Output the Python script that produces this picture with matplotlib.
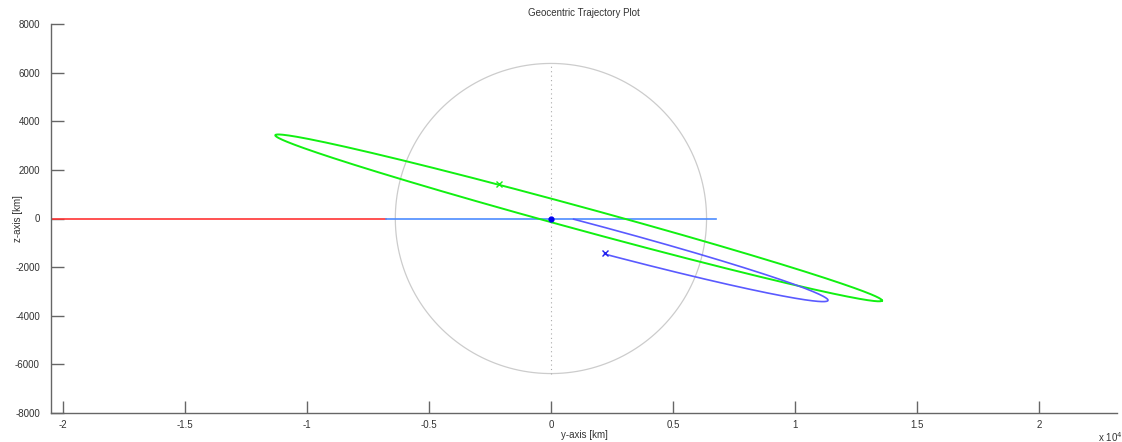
import numpy as np
import matplotlib
matplotlib.use("Agg")
import matplotlib.pyplot as plt

plt.rcParams['font.family'] = ['Liberation Sans', 'DejaVu Sans']

# Earth
earth_radius = 6378.0  # km

# incoming hyperbolic leg (red) and parking line (light blue), z = 0
red_y = [-21000.0, -6760.0]
red_z = [0.0, 0.0]
line_y = [-6760.0, 6760.0]
line_z = [0.0, 0.0]

# transfer orbit (green) ellipse: centre, semi axes [km], tilt [deg]
green_center = (1135.0, 25.0)
green_a, green_b = 12890.0, 470.0
green_tilt = -15.3
green_mark = (-2130.0, 1400.0)

# final orbit (blue) partial ellipse
blue_center_uv = (1700.0, -315.0)
blue_a, blue_b = 10140.0, 530.0
blue_tilt = -15.0
blue_arc_deg = (94.5, -85.5)
blue_mark = (2200.0, -1430.0)

# satellite at origin
origin = (0.0, 0.0)

x_ticks = np.arange(-20000, 20001, 5000)
y_ticks = np.arange(-8000, 8001, 2000)


def ellipse_pts(cu, cv, a, b, tilt, t0, t1, n=400):
    t = np.radians(np.linspace(t0, t1, n))
    u = cu + a * np.cos(t)
    v = cv + b * np.sin(t)
    th = np.radians(tilt)
    y = u * np.cos(th) - v * np.sin(th)
    z = u * np.sin(th) + v * np.cos(th)
    return y, z


fig = plt.figure(figsize=(11.22, 4.42), dpi=100)
ax = fig.add_axes([51 / 1122, 29 / 442, 1066 / 1122, 389 / 442])

# earth outline and polar axis
phi = np.linspace(0, 2 * np.pi, 400)
ax.plot(earth_radius * np.cos(phi), earth_radius * np.sin(phi),
        color='#cccccc', lw=0.9)
ax.plot([0, 0], [-earth_radius, earth_radius], color='#aaaaaa', lw=0.8,
        ls=(0, (1, 3)))

ax.plot(red_y, red_z, color='#ff3333', lw=1.2)
ax.plot(line_y, line_z, color='#4d8cff', lw=1.2)

# green ellipse in its own frame: convert centre to u/v
th = np.radians(green_tilt)
gu = green_center[0] * np.cos(th) + green_center[1] * np.sin(th)
gv = -green_center[0] * np.sin(th) + green_center[1] * np.cos(th)
gy, gz = ellipse_pts(gu, gv, green_a, green_b, green_tilt, 0, 360)
ax.plot(gy, gz, color='#11f011', lw=1.4)
ax.plot(*green_mark, marker='x', color='#11f011', ms=4, mew=1)

by, bz = ellipse_pts(blue_center_uv[0], blue_center_uv[1], blue_a, blue_b,
                     blue_tilt, blue_arc_deg[0], blue_arc_deg[1])
ax.plot(by, bz, color='#5a5aff', lw=1.2)
ax.plot(*blue_mark, marker='x', color='#2222ee', ms=4, mew=1)
ax.plot(*origin, marker='o', color='#0000ee', ms=3.5)

ax.set_xlim(-20490, 23200)
ax.set_ylim(-8000, 8000)

ax.set_xticks(x_ticks)
ax.set_xticklabels(['%g' % (v / 1e4) for v in x_ticks])
ax.set_yticks(y_ticks)
ax.set_yticklabels(['%d' % v for v in y_ticks])

for s in ['top', 'right']:
    ax.spines[s].set_visible(False)
for s in ['left', 'bottom']:
    ax.spines[s].set_color('#666666')
    ax.spines[s].set_linewidth(1.0)
ax.tick_params(direction='in', length=9, width=1, color='#666666',
               labelsize=7, labelcolor='#333333')
ax.tick_params(axis='y', pad=8)
ax.tick_params(axis='x', pad=5)

ax.set_title('Geocentric Trajectory Plot', fontsize=7, color='#333333', pad=6)
ax.set_xlabel('y-axis [km]', fontsize=7, color='#333333', labelpad=0)
ax.set_ylabel('z-axis [km]', fontsize=7, color='#333333', va='center')
ax.yaxis.set_label_coords(-33 / 1066, 0.5)
fig.text(1098 / 1122, 1 - 437 / 442, r'x 10$^4$', fontsize=7, color='#333333',
         ha='left', va='center')

fig.savefig('out.png', dpi=100)
